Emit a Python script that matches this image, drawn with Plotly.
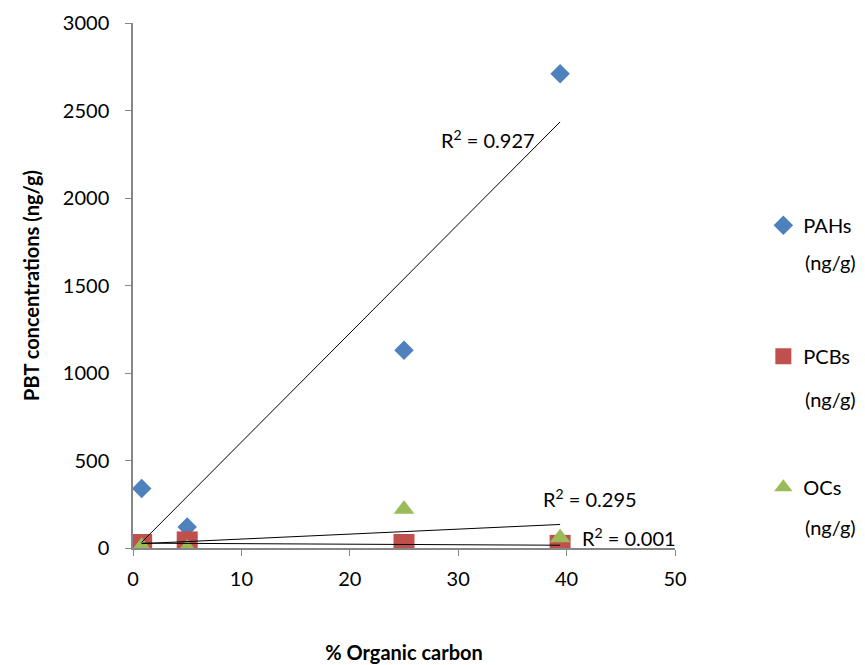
import numpy as np
import plotly.graph_objects as go

organic_carbon = [0.8, 5.0, 25.0, 39.4]
pahs = [340, 120, 1130, 2710]
pcbs = [20, 35, 20, 15]
ocs = [10, 0, 222, 58]
r2_labels = ["R<sup>2</sup> = 0.927", "R<sup>2</sup> = 0.001", "R<sup>2</sup> = 0.295"]
series_names = ["PAHs", "PCBs", "OCs"]
unit_label = "(ng/g)"

FONT = "Lato, sans-serif"
colors = ["#4F81BD", "#C0504D", "#9BBB59"]
symbols = ["diamond", "square", "triangle-up"]
sizes = [15, 21, 18]

fig = go.Figure()
for name, vals, c, s, sz in zip(series_names, [pahs, pcbs, ocs], colors, symbols, sizes):
    fig.add_trace(go.Scatter(x=organic_carbon, y=vals, mode="markers", name=name,
                             legendgroup=name,
                             marker=dict(symbol=s, color=c, size=sz, line=dict(width=0))))

# linear trend lines
xs = np.array([min(organic_carbon), max(organic_carbon)])
for vals in [pahs, pcbs, ocs]:
    k, b = np.polyfit(organic_carbon, vals, 1)
    fig.add_trace(go.Scatter(x=xs, y=k * xs + b, mode="lines", showlegend=False,
                             line=dict(color="black", width=1), hoverinfo="skip"))

ann_font = dict(family=FONT, size=20, color="black")
fig.add_annotation(x=37.3, y=2340, text=r2_labels[0], showarrow=False, xanchor="right", yanchor="middle", font=ann_font)
fig.add_annotation(x=41.2, y=63, text=r2_labels[1], showarrow=False, xanchor="left", yanchor="middle", font=ann_font)
fig.add_annotation(x=37.6, y=286, text=r2_labels[2], showarrow=False, xanchor="left", yanchor="middle", font=ann_font)

# second line of each legend entry
for yy in [0.545, 0.284, 0.04]:
    fig.add_annotation(x=1.236, y=yy, xref="paper", yref="paper", text=unit_label, showarrow=False,
                       xanchor="left", yanchor="middle", font=ann_font)

fig.update_layout(
    width=865, height=665,
    margin=dict(l=125, r=198, t=15, b=125, autoexpand=False),
    paper_bgcolor="white", plot_bgcolor="white",
    font=dict(family=FONT, size=20, color="black"),
    showlegend=True,
    legend=dict(x=1.163, xanchor="left", y=0.652, yanchor="top", tracegroupgap=102,
                font=dict(family=FONT, size=20, color="black"), itemwidth=30,
                bgcolor="rgba(0,0,0,0)"),
    xaxis=dict(range=[0, 50], tickvals=[0, 10, 20, 30, 40, 50], showgrid=False, zeroline=False,
               showline=True, linecolor="#868686", linewidth=1.5, ticks="outside", ticklen=6,
               tickcolor="#868686", tickfont=dict(size=20), ticklabelstandoff=6, automargin=False,
               title=dict(text="<b>% Organic carbon</b>", font=dict(size=20), standoff=57)),
    yaxis=dict(range=[0, 3000], tickvals=[0, 500, 1000, 1500, 2000, 2500, 3000], showgrid=False, zeroline=False,
               showline=True, linecolor="#868686", linewidth=1.5, ticks="outside", ticklen=6,
               tickcolor="#868686", tickfont=dict(size=20), ticklabelstandoff=12, automargin=False,
               title=dict(text="<b>PBT concentrations (ng/g)</b>", font=dict(size=20), standoff=18)),
)

fig.write_html("out.html")
